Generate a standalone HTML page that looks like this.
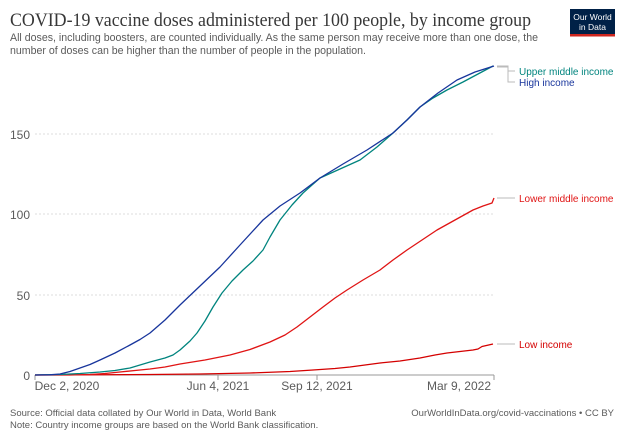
<!DOCTYPE html>
<html><head><meta charset="utf-8"><style>
body{margin:0;background:#fff;width:624px;height:440px;overflow:hidden;font-family:"Liberation Sans",sans-serif}
</style></head><body>
<svg width="624" height="440" xmlns="http://www.w3.org/2000/svg" font-family="Liberation Sans, sans-serif">
<text x="10" y="26" font-family="Liberation Serif, serif" font-size="19" fill="#373737" textLength="521" lengthAdjust="spacingAndGlyphs">COVID-19 vaccine doses administered per 100 people, by income group</text>
<text x="10" y="41" font-size="11" fill="#5b5b5b" textLength="528" lengthAdjust="spacingAndGlyphs">All doses, including boosters, are counted individually. As the same person may receive more than one dose, the</text>
<text x="10" y="54" font-size="11" fill="#5b5b5b" textLength="356" lengthAdjust="spacingAndGlyphs">number of doses can be higher than the number of people in the population.</text>
<rect x="570" y="9" width="45" height="27" fill="#002147"/>
<rect x="570" y="34" width="45" height="2.5" fill="#ce261e"/>
<text x="592.5" y="20" font-size="8.5" fill="#fff" text-anchor="middle">Our World</text>
<text x="592.5" y="30" font-size="8.5" fill="#fff" text-anchor="middle">in Data</text>
<g stroke="#ddd" stroke-dasharray="2,2" stroke-width="1">
<line x1="35" y1="134" x2="494" y2="134"/><line x1="35" y1="214" x2="494" y2="214"/><line x1="35" y1="295" x2="494" y2="295"/>
</g>
<line x1="35" y1="375" x2="494" y2="375" stroke="#999"/>
<g stroke="#999"><line x1="35" y1="375" x2="35" y2="380"/><line x1="218" y1="375" x2="218" y2="380"/><line x1="317" y1="375" x2="317" y2="380"/><line x1="494" y1="375" x2="494" y2="380"/></g>
<g font-size="12" fill="#5b5b5b" text-anchor="end">
<text x="30" y="139">150</text><text x="30" y="219">100</text><text x="30" y="300">50</text><text x="30" y="380">0</text></g>
<g font-size="12" fill="#5b5b5b" text-anchor="middle">
<text x="67" y="390">Dec 2, 2020</text><text x="218" y="390">Jun 4, 2021</text><text x="317" y="390">Sep 12, 2021</text><text x="459" y="390">Mar 9, 2022</text></g>
<g fill="none" stroke-width="1.3" stroke-linejoin="round">
<polyline stroke="#d40000" points="35,375 150,374.5 200,374 250,373 290,371.5 313,370 335,368.5 350,367 365,365 380,363 400,361 420,358 435,355 447,353 460,351.5 473,350 478,349 482,346.5 493,344"/>
<polyline stroke="#e01414" points="35,375 70,375 90,374.5 105,373.5 120,372 135,370.5 150,369 165,367 180,364 205,360 230,355 250,349.5 270,342 285,335 297,327 310,317 323,307 335,298 347,290 363,280 380,270 393,260 407,250 422,240 437,230 455,220 473,210 483,206 492,203 494,198"/>
<polyline stroke="#00847e" points="35,375 60,374.5 80,373.5 100,372 115,370.5 130,368 150,362 165,358 173,355 180,350 190,341 197,333 205,321 213,307 222,293 232,281 243,270 253,261 263,250 270,237 280,220 292,205 303,193 312,185 320,178 340,169 360,160 377,147 393,133 407,120 420,107 433,98 447,90 463,82 478,74 493,66"/>
<polyline stroke="#18359c" points="35,375 50,374.8 60,374 70,371.5 80,368 90,364.5 100,360 115,353 130,345 140,339.5 150,333 165,320 180,305 200,286 220,267 240,245 263,220 280,206 300,193 320,178 343,164 367,150 393,133 407,120 420,107 438,93 457,80 475,72 494,66"/>
</g>
<g stroke="#bbb" fill="none"><polyline points="497,66 508,66 508,71 515,71"/><polyline points="497,67 508,67 508,82 515,82"/><line x1="497" y1="198" x2="515" y2="198"/><line x1="497" y1="344" x2="515" y2="344"/></g>
<g font-size="10">
<text x="519" y="75" fill="#00847e">Upper middle income</text>
<text x="519" y="86" fill="#18359c">High income</text>
<text x="519" y="202" fill="#e01414">Lower middle income</text>
<text x="519" y="348" fill="#d40000">Low income</text></g>
<g font-size="9.5" fill="#5b5b5b">
<text x="10" y="416">Source: Official data collated by Our World in Data, World Bank</text>
<text x="10" y="428">Note: Country income groups are based on the World Bank classification.</text>
<text x="614" y="416" text-anchor="end">OurWorldInData.org/covid-vaccinations • CC BY</text></g>
</svg>
</body></html>
